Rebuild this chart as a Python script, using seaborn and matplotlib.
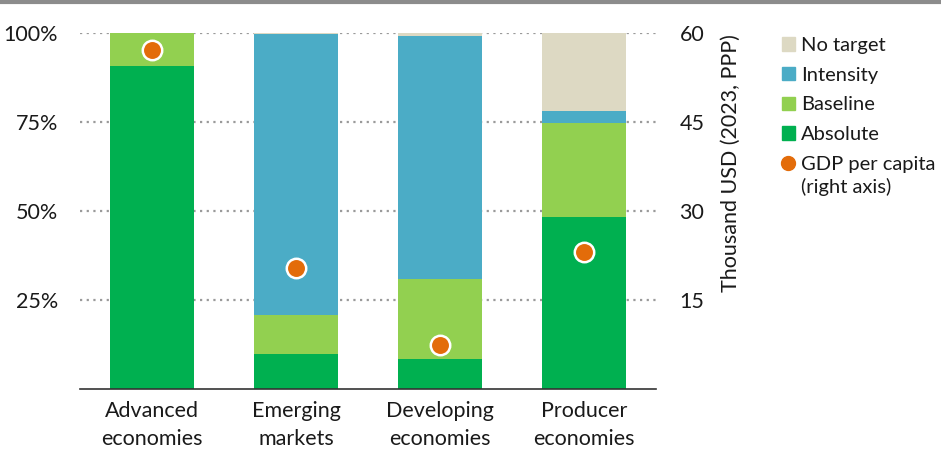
import matplotlib.pyplot as plt
import numpy as np
import pandas as pd
import seaborn as sns
from matplotlib.lines import Line2D
from matplotlib.patches import Patch

# --- data ---
groups = ['Advanced\neconomies', 'Emerging\nmarkets', 'Developing\neconomies', 'Producer\neconomies']
absolute = [90.8, 9.8, 8.4, 48.3]
baseline = [9.2, 11.0, 22.5, 26.4]
intensity = [0.0, 79.0, 68.3, 3.4]
no_target = [0.0, 0.2, 0.8, 21.9]
gdp_per_capita = [57.1, 20.4, 7.4, 23.1]  # thousand USD (2023, PPP), right axis

series_names = ['Absolute', 'Baseline', 'Intensity', 'No target']
colors = {'Absolute': '#00B050', 'Baseline': '#92D050',
          'Intensity': '#4BACC6', 'No target': '#DDD9C3'}
dot_color = '#E36C0A'

sns.set_theme(style='white')
plt.rcParams['font.family'] = ['Lato', 'DejaVu Sans']
FS = 15.5
LFS = 14.5
TXT = '#1a1a1a'

df = pd.DataFrame({'group': groups, 'Absolute': absolute, 'Baseline': baseline,
                   'Intensity': intensity, 'No target': no_target})
# cumulative tops so the stacked bars can be overlaid from the top down
cum = df[series_names].cumsum(axis=1)

fig = plt.figure(figsize=(9.41, 4.53), dpi=100)
ax = fig.add_axes([0.085, 0.1413, 0.612, 0.7859])

for name in reversed(series_names):
    sns.barplot(x=df['group'], y=cum[name], color=colors[name], width=0.583,
                linewidth=0, saturation=1, ax=ax, zorder=2)

ax.set_ylim(0, 100)
ax.set_xlim(-0.5, 3.5)
ax.set_yticks([25, 50, 75, 100])
ax.set_yticklabels(['25%', '50%', '75%', '100%'])
ax.set_xlabel('')
ax.set_ylabel('')
ax.yaxis.grid(True, color='#9a9a9a', linestyle=(0, (1, 2)), linewidth=1.6)
ax.set_axisbelow(True)
for s in ['top', 'right', 'left']:
    ax.spines[s].set_visible(False)
ax.spines['bottom'].set_color('#333333')
ax.spines['bottom'].set_linewidth(1.2)
ax.tick_params(axis='y', length=0, pad=16, labelsize=FS, colors=TXT)
ax.tick_params(axis='x', length=0, pad=9, labelsize=FS, colors=TXT)
for t in ax.get_xticklabels():
    t.set_linespacing(1.45)

# GDP per capita on the right axis
ax2 = ax.twinx()
sns.stripplot(x=df['group'], y=gdp_per_capita, jitter=False, color=dot_color,
              size=14, edgecolor='white', linewidth=1.8, ax=ax2, zorder=5)
ax2.set_ylim(0, 60)
ax2.set_xlim(-0.5, 3.5)
ax2.set_yticks([15, 30, 45, 60])
ax2.tick_params(axis='y', length=0, pad=17, labelsize=FS, colors=TXT)
ax2.grid(False)
for s in ['top', 'right', 'left', 'bottom']:
    ax2.spines[s].set_visible(False)
ax2.set_ylabel('Thousand USD (2023, PPP)', fontsize=FS, color=TXT)
ax2.yaxis.set_label_coords(1.113, 0.635)

handles = [Patch(color=colors['No target']), Patch(color=colors['Intensity']),
           Patch(color=colors['Baseline']), Patch(color=colors['Absolute']),
           Line2D([], [], marker='o', linestyle='', color=dot_color, markersize=10)]
labels = ['No target', 'Intensity', 'Baseline', 'Absolute', 'GDP per capita']
leg = fig.legend(handles, labels, loc='upper left', bbox_to_anchor=(0.822, 0.936),
                 frameon=False, fontsize=LFS, handlelength=0.65, handleheight=0.65,
                 handletextpad=0.3, labelspacing=0.63, borderaxespad=0)
for t in leg.get_texts():
    t.set_color(TXT)

# second line of the GDP entry, tucked under the first
fig.canvas.draw()
bb = leg.get_texts()[-1].get_window_extent().transformed(fig.transFigure.inverted())
fig.text(bb.x0, bb.y0 - 0.011, '(right axis)', fontsize=LFS, color=TXT, va='top', ha='left')

# grey rule across the top
fig.add_artist(Line2D([0, 1], [0.996, 0.996], transform=fig.transFigure,
                      color='#8c8c8c', linewidth=3))

fig.savefig('out.png', dpi=100)
